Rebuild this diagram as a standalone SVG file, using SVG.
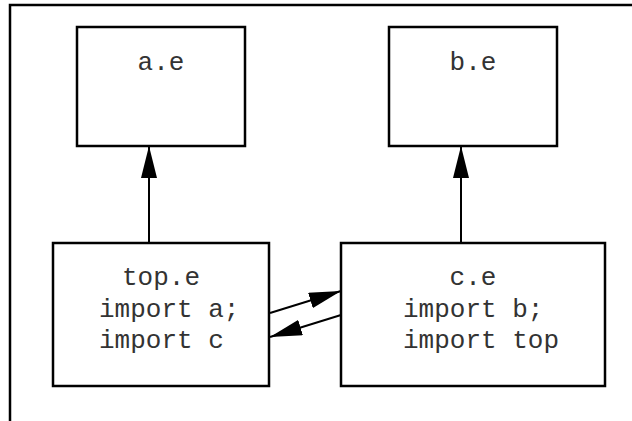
<svg xmlns="http://www.w3.org/2000/svg" width="632" height="421" viewBox="0 0 632 421">
<defs>
<marker id="ah" markerUnits="userSpaceOnUse" markerWidth="32" markerHeight="16" refX="32" refY="8" orient="auto">
<path d="M0,0 L32,8 L0,16 z" fill="#000"/>
</marker>
<style>
.box{fill:#fff;stroke:#000;stroke-width:2.5}
.t{font-family:"Liberation Mono","Courier New",monospace;font-size:26px;fill:#333}
.c{stroke:#000;stroke-width:2;fill:none;marker-end:url(#ah)}
</style>
</defs>
<rect width="632" height="421" fill="#fff"/>
<path d="M10,421 L10,5 L632,5" fill="none" stroke="#000" stroke-width="2.5"/>
<g id="connectors">
<line class="c" x1="149" y1="243" x2="149" y2="146"/>
<line class="c" x1="461" y1="243" x2="461" y2="146"/>
<line class="c" x1="270" y1="313" x2="341" y2="291"/>
<line class="c" x1="341" y1="315" x2="270" y2="337"/>
</g>
<g id="a">
<rect class="box" x="77" y="27" width="168" height="119"/>
<text class="t" x="161" y="70" text-anchor="middle">a.e</text>
</g>
<g id="b">
<rect class="box" x="389" y="27" width="168" height="119"/>
<text class="t" x="473" y="70" text-anchor="middle">b.e</text>
</g>
<g id="top">
<rect class="box" x="53" y="243" width="216" height="143"/>
<text class="t" x="161" y="285" text-anchor="middle">top.e</text>
<text class="t" x="99" y="317">import a;</text>
<text class="t" x="99" y="348">import c</text>
</g>
<g id="c">
<rect class="box" x="341" y="243" width="264" height="143"/>
<text class="t" x="473" y="285" text-anchor="middle">c.e</text>
<text class="t" x="403" y="317">import b;</text>
<text class="t" x="403" y="348">import top</text>
</g>
</svg>
